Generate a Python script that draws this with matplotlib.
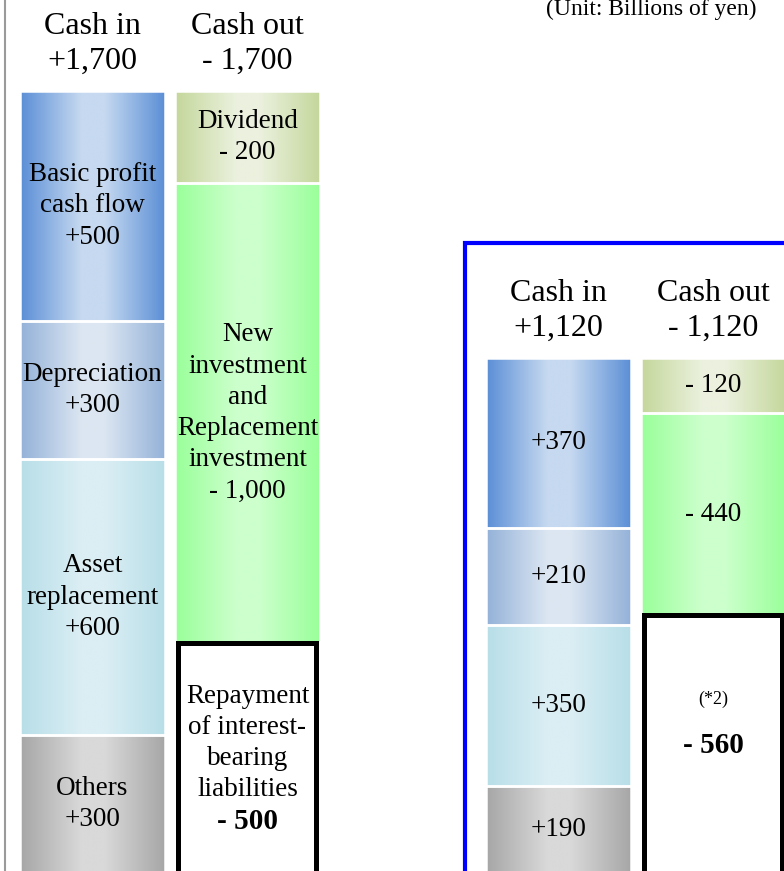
import matplotlib
matplotlib.use('Agg')
import matplotlib.pyplot as plt
import numpy as np
from matplotlib.colors import LinearSegmentedColormap
from matplotlib.patches import Rectangle
from matplotlib.lines import Line2D

plt.rcParams['font.family'] = ['Liberation Serif', 'DejaVu Serif']

# ---- data ----
in_names = ['Basic profit\ncash flow', 'Depreciation', 'Asset\nreplacement', 'Others']
out_names = ['Dividend', 'New\ninvestment\nand\nReplacement\ninvestment',
             'Repayment\nof interest-\nbearing\nliabilities']
cash_in_a = [500, 300, 600, 300]
cash_out_a = [200, 1000, 500]
cash_in_b = [370, 210, 350, 190]
cash_out_b = [120, 440, 560]
note_b = '(*2)'
unit_label = '(Unit: Billions of yen)'

# ---- styles ----
in_colors = [('#5A8ED6', '#C6D9F0'), ('#93B1D8', '#DCE6F2'),
             ('#B7DEE8', '#DBEEF4'), ('#A6A6A6', '#D9D9D9')]
out_colors = [('#C4D79B', '#EBF1DE'), ('#99FF99', '#CCFFCC'), None]

W, H = 784, 871
fig = plt.figure(figsize=(W / 100, H / 100), dpi=100)
ax = fig.add_axes([0, 0, 1, 1])
PX = 0.46
ax.set_xlim(0, W)
ax.set_ylim(2 / PX, 873 / PX)
ax.axis('off')

grad = np.linspace(0, 1, 256).reshape(1, -1)
SEG_W = 145.5
BOX_W = 138
SEG_FS = 19.5
HEAD_FS = 23
LS = 1.33


def draw_stack(xc, values, names, colors, sign, header):
    values = np.array(values, dtype=float)
    total = int(values.sum())
    tops = total - np.concatenate([[0], np.cumsum(values)[:-1]])
    bottoms = tops - values
    sgn = '+' if sign > 0 else '- '
    ax.annotate(f'{header}\n{sgn}{total:,}', xy=(xc, total), xytext=(0, 47),
                textcoords='offset pixels', ha='center', va='center',
                fontsize=HEAD_FS, linespacing=1.27)
    for i, (v, b) in enumerate(zip(values, bottoms)):
        col = colors[i]
        name = names[i] if names else None
        if col is None:
            ax.bar(xc, v, bottom=b, width=BOX_W, color='white',
                   edgecolor='black', linewidth=3.6, zorder=4)
            mid = b + v / 2
            if name:
                ax.annotate(name, xy=(xc, mid), xytext=(0, 15), textcoords='offset pixels',
                            ha='center', va='center', fontsize=SEG_FS, linespacing=LS, zorder=5)
                ax.annotate(f'{sgn}{int(v):,}', xy=(xc, mid), xytext=(0, -63),
                            textcoords='offset pixels', ha='center', va='center',
                            fontsize=SEG_FS + 1.5, fontweight='bold', zorder=5)
            else:
                ax.annotate(note_b, xy=(xc, mid), xytext=(0, 45), textcoords='offset pixels',
                            ha='center', va='center', fontsize=13, zorder=5)
                ax.annotate(f'{sgn}{int(v):,}', xy=(xc, mid), xytext=(0, -1),
                            textcoords='offset pixels', ha='center', va='center',
                            fontsize=SEG_FS + 1.5, fontweight='bold', zorder=5)
            continue
        bar = ax.bar(xc, v, bottom=b, width=SEG_W, color='none',
                     edgecolor='white', linewidth=1.8, zorder=3)[0]
        e, m = col
        cmap = LinearSegmentedColormap.from_list('g', [(0, e), (0.42, m), (0.58, m), (1, e)])
        im = ax.imshow(grad, extent=[bar.get_x(), bar.get_x() + bar.get_width(), b, b + v],
                       aspect='auto', cmap=cmap, zorder=2, interpolation='bilinear')
        im.set_clip_path(bar)
        label = f'{sgn}{int(v):,}' if not name else f'{name}\n{sgn}{int(v):,}'
        ax.text(xc, b + v / 2, label, ha='center', va='center', fontsize=SEG_FS,
                linespacing=LS, zorder=5)


draw_stack(92.5, cash_in_a, in_names, in_colors, +1, 'Cash in')
draw_stack(247.5, cash_out_a, out_names, out_colors, -1, 'Cash out')
draw_stack(558.5, cash_in_b, None, in_colors, +1, 'Cash in')
draw_stack(713.5, cash_out_b, None, out_colors, -1, 'Cash out')

ax.set_xlim(0, W)
ax.set_ylim(2 / PX, 873 / PX)

# frame elements
fig.add_artist(Line2D([5 / W, 5 / W], [0, 1], transform=fig.transFigure,
                      color='#9A9A9A', linewidth=1.5))
fig.add_artist(Rectangle((465 / W, -0.05), 0.5, 1 - 243 / H + 0.05,
                         transform=fig.transFigure, fill=False,
                         edgecolor='#0000FF', linewidth=3.0, zorder=10))
fig.text(757 / W, 1 - 15 / H, unit_label, ha='right', va='baseline', fontsize=17)

fig.savefig('out.png', dpi=100)
